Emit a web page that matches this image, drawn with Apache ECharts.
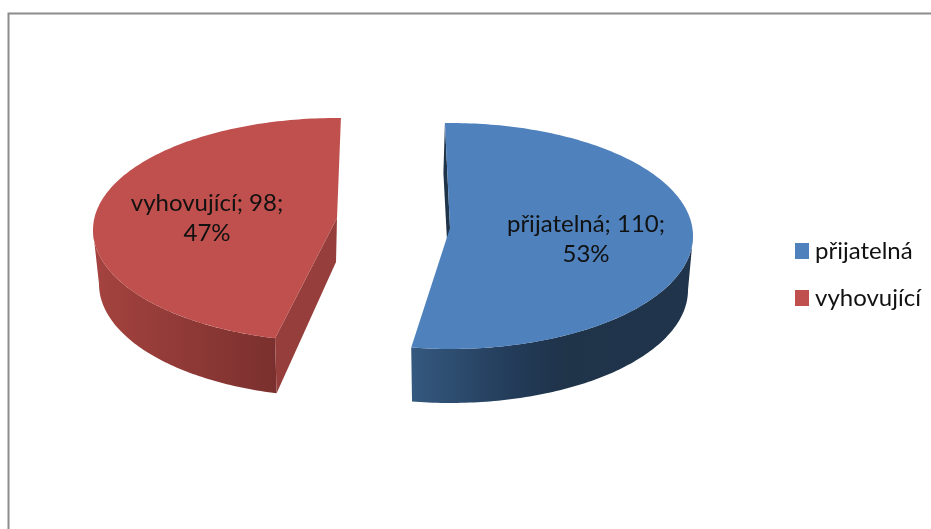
<!DOCTYPE html>
<html><head><meta charset="utf-8">
<style>html,body{margin:0;padding:0;background:#fff}#c{width:931px;height:529px}</style>
<script src="https://cdn.jsdelivr.net/npm/echarts@6/dist/echarts.min.js"></script>
</head><body><div id="c"></div>
<script>
const categories = ['přijatelná', 'vyhovující'];
const values = [110, 98];
const percents = [53, 47];
const total = values[0] + values[1];

const FONT = 'Lato, "Open Sans", sans-serif';
const looks = [
  { color:'#4f81bd', start:-1.2, spanScale:1,
    cx:450, cy:236, rx:243, ry:113, apex:[450,228], apexDepth:50,
    bcx:450, bcy:290, brx:238, bry:113,
    cutEdges:['start'], cutColor:'#1f3349',
    wall:[[0,'#35597f'],[0.35,'#233c5a'],[0.55,'#1f3349'],[1,'#20344c']],
    labelX:586, labelY:239 },
  { color:'#c0504d', start:194.7, spanScale:0.98,
    cx:337, cy:230, rx:244, ry:112, apex:[337,218], apexDepth:44,
    bcx:337, bcy:284, brx:238, bry:113,
    cutEdges:['start'], cutColor:'#953e3b',
    wall:[[0,'#a5433f'],[1,'#7a302e']],
    labelX:207, labelY:218 }
];

function pt(cx, cy, rx, ry, deg) {
  const t = deg * Math.PI / 180;
  return [cx + rx * Math.sin(t), cy - ry * Math.cos(t)];
}
function arc(cx, cy, rx, ry, a, b) {
  const out = [], n = Math.max(2, Math.ceil(Math.abs(b - a)));
  for (let i = 0; i <= n; i++) out.push(pt(cx, cy, rx, ry, a + (b - a) * i / n));
  return out;
}
function renderSlice(idx) {
  const k = looks[idx];
  return function (params, api) {
    const val = api.value(0);
    const a = k.start, b = a + val / total * 360 * k.spanScale;
    const children = [];
    const wa = Math.max(a, 90), wb = Math.min(b, 270);
    if (wb > wa) {
      const pts = arc(k.cx, k.cy, k.rx, k.ry, wa, wb)
        .concat(arc(k.bcx, k.bcy, k.brx, k.bry, wb, wa));
      children.push({ type:'polygon', shape:{ points:pts }, style:{
        fill:new echarts.graphic.LinearGradient(0,0,1,0,k.wall.map(s=>({offset:s[0],color:s[1]}))) } });
    }
    k.cutEdges.forEach(e => {
      const deg = e === 'start' ? a : b;
      const p = pt(k.cx, k.cy, k.rx, k.ry, deg);
      const q = deg > 90 && deg < 270 ? pt(k.bcx, k.bcy, k.brx, k.bry, deg) : [p[0]-1.5, p[1]+k.apexDepth];
      children.push({ type:'polygon', shape:{ points:[k.apex, p, q, [k.apex[0]-1, k.apex[1]+k.apexDepth]] },
        style:{ fill:k.cutColor } });
    });
    children.push({ type:'polygon',
      shape:{ points:[k.apex].concat(arc(k.cx, k.cy, k.rx, k.ry, a, b)) },
      style:{ fill:k.color } });
    children.push({ type:'text', style:{
      text: categories[idx] + '; ' + val + ';\n' + percents[idx] + '%',
      x:k.labelX, y:k.labelY, align:'center', verticalAlign:'middle',
      font:'24px ' + FONT, fill:'#111', lineHeight:30 } });
    return { type:'group', children };
  };
}

const chart = echarts.init(document.getElementById('c'), null, { renderer:'canvas' });
chart.setOption({
  animation:false,
  backgroundColor:'#fff',
  graphic:[
    { type:'polyline', shape:{ points:[[8.5,529],[8.5,13.5],[931,13.5]] },
      style:{ stroke:'#8c8c8c', lineWidth:2, fill:null }, silent:true }
  ],
  legend:{
    orient:'vertical', left:790, top:234,
    itemWidth:14, itemHeight:16, itemGap:23,
    icon:'rect',
    data:categories,
    selectedMode:false,
    textStyle:{ fontFamily:FONT, fontSize:24, color:'#111', padding:[0,0,0,1] }
  },
  series: categories.map((name, i) => ({
    type:'custom', name, coordinateSystem:'none',
    itemStyle:{ color:looks[i].color },
    renderItem:renderSlice(i),
    data:[[values[i]]],
    silent:true
  }))
});
</script></body></html>
